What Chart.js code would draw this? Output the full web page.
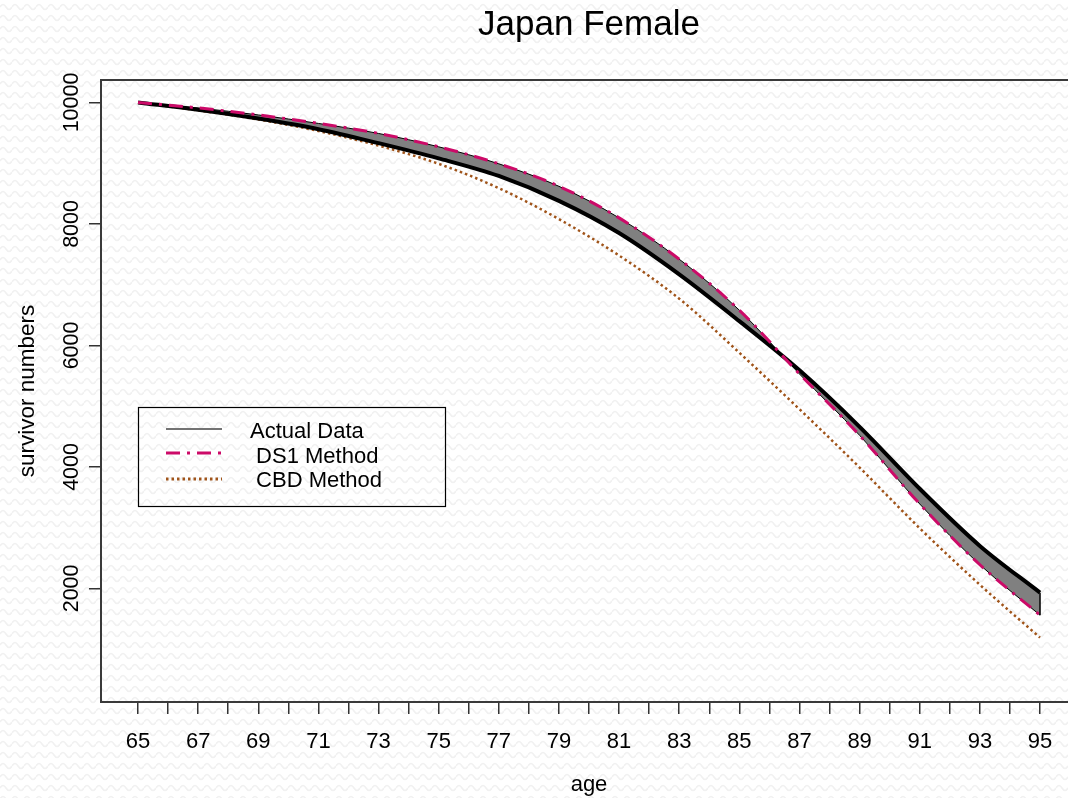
<!DOCTYPE html>
<html>
<head>
<meta charset="utf-8">
<script src="https://cdn.jsdelivr.net/npm/chart.js@4/dist/chart.umd.min.js"></script>
<style>
  html, body {
    margin: 0; padding: 0; width: 1068px; height: 798px; overflow: hidden;
    background-color: #ffffff;
    background-image: url("data:image/svg+xml,%3Csvg xmlns='http://www.w3.org/2000/svg' width='12' height='11'%3E%3Cpath d='M0 7 Q3 2 6 7 T12 7' fill='none' stroke='%23f1f1f1' stroke-width='1.6'/%3E%3C/svg%3E");
  }
  #wrap { position: relative; width: 1077px; height: 798px; }
</style>
</head>
<body>
<div id="wrap"><canvas id="chart" width="1077" height="798"></canvas></div>
<script>
// Survivor numbers per 10,000 at age 65, Japanese females
const ages = [65, 67, 69, 71, 73, 75, 77, 79, 81, 83, 85, 87, 89, 91, 93, 95];
const actualData = [10000, 9880, 9735, 9560, 9330, 9080, 8790, 8380, 7850, 7170, 6400, 5590, 4660, 3640, 2700, 1930];
const ds1Data    = [10000, 9910, 9795, 9655, 9490, 9270, 8990, 8620, 8100, 7420, 6580, 5530, 4520, 3390, 2390, 1560];
const cbdData    = [10000, 9870, 9720, 9530, 9290, 8990, 8590, 8080, 7480, 6770, 5880, 4950, 3990, 2990, 2060, 1190];

const xTicks = [65, 66, 67, 68, 69, 70, 71, 72, 73, 74, 75, 76, 77, 78, 79, 80,
                81, 82, 83, 84, 85, 86, 87, 88, 89, 90, 91, 92, 93, 94, 95];
const yTicks = [2000, 4000, 6000, 8000, 10000];
const seriesNames = ['Actual Data', ' DS1 Method', ' CBD Method'];

const FONT = '"Liberation Sans", Arial, Helvetica, sans-serif';
const MAGENTA = '#cc0a68';
const BROWN = '#a0541a';
const DASH_DOT = [14, 7, 3, 7];
const DOTTED = [2.5, 3];

const pts = (vals) => ages.map((a, i) => ({ x: a, y: vals[i] }));

// Plot frame, rotated y labels, band closure and the in-plot key
const decorations = {
  id: 'decorations',
  afterDatasetsDraw(chart) {
    const { ctx, scales: { x, y } } = chart;
    // close the shaded band at the last age
    const last = ages.length - 1;
    ctx.save();
    ctx.strokeStyle = '#000';
    ctx.lineWidth = 1.5;
    ctx.beginPath();
    ctx.moveTo(x.getPixelForValue(ages[last]), y.getPixelForValue(actualData[last]));
    ctx.lineTo(x.getPixelForValue(ages[last]), y.getPixelForValue(ds1Data[last]));
    ctx.stroke();
    ctx.restore();
  },
  afterDraw(chart) {
    const { ctx, chartArea: a, scales: { y } } = chart;
    ctx.save();
    // frame (open on the right, where the plot runs past the edge)
    ctx.strokeStyle = '#3a3a3a';
    ctx.lineWidth = 2;
    ctx.beginPath();
    ctx.moveTo(a.right + 5, a.top);
    ctx.lineTo(a.left, a.top);
    ctx.lineTo(a.left, a.bottom);
    ctx.lineTo(a.right + 5, a.bottom);
    ctx.stroke();

    // y tick labels, rotated to read bottom-up
    ctx.fillStyle = '#000';
    ctx.font = '21.5px ' + FONT;
    ctx.textAlign = 'center';
    ctx.textBaseline = 'middle';
    yTicks.forEach(v => {
      ctx.save();
      ctx.translate(72, y.getPixelForValue(v));
      ctx.rotate(-Math.PI / 2);
      ctx.fillText(String(v), 0, 0);
      ctx.restore();
    });

    // key
    const bx = 138, by = 407, bw = 307, bh = 99;
    ctx.strokeStyle = '#000';
    ctx.lineWidth = 1.2;
    ctx.strokeRect(bx + 0.5, by + 0.5, bw, bh);
    const rows = [
      { lineY: 429, textY: 432, color: '#444', width: 1.5, dash: [] },
      { lineY: 453, textY: 457, color: MAGENTA, width: 3, dash: DASH_DOT },
      { lineY: 479, textY: 481, color: BROWN, width: 3, dash: DOTTED }
    ];
    ctx.font = '22px ' + FONT;
    ctx.textAlign = 'left';
    rows.forEach((r, i) => {
      ctx.beginPath();
      ctx.setLineDash(r.dash);
      ctx.strokeStyle = r.color;
      ctx.lineWidth = r.width;
      ctx.moveTo(166, r.lineY);
      ctx.lineTo(222, r.lineY);
      ctx.stroke();
      ctx.setLineDash([]);
      ctx.fillStyle = '#000';
      ctx.fillText(seriesNames[i], 250, r.textY);
    });
    ctx.restore();
  }
};

new Chart(document.getElementById('chart'), {
  type: 'line',
  data: {
    datasets: [
      {
        label: seriesNames[0],
        data: pts(actualData),
        borderColor: '#000',
        borderWidth: 4,
        backgroundColor: '#808080',
        fill: { target: 1 },
        pointRadius: 0,
        cubicInterpolationMode: 'monotone',
        order: 2
      },
      {
        label: seriesNames[1],
        data: pts(ds1Data),
        borderColor: MAGENTA,
        borderWidth: 3,
        borderDash: DASH_DOT,
        fill: false,
        pointRadius: 0,
        cubicInterpolationMode: 'monotone',
        order: 0
      },
      {
        label: 'ds1-edge',
        data: pts(ds1Data),
        borderColor: '#000',
        borderWidth: 1,
        fill: false,
        pointRadius: 0,
        cubicInterpolationMode: 'monotone',
        order: 1
      },
      {
        label: seriesNames[2],
        data: pts(cbdData),
        borderColor: BROWN,
        borderWidth: 2.5,
        borderDash: DOTTED,
        fill: false,
        pointRadius: 0,
        cubicInterpolationMode: 'monotone',
        order: 3
      }
    ]
  },
  options: {
    responsive: false,
    animation: false,
    devicePixelRatio: 1,
    layout: { padding: 0 },
    plugins: {
      legend: { display: false },
      tooltip: { enabled: false },
      title: {
        display: true,
        fullSize: false,
        text: 'Japan Female',
        color: '#000',
        font: { family: FONT, size: 35, weight: 'normal', lineHeight: 1.2 },
        padding: { top: 4, bottom: 34 }
      }
    },
    scales: {
      x: {
        type: 'linear',
        min: 63.7694,
        max: 96.23,
        afterBuildTicks: (axis) => { axis.ticks = xTicks.map(v => ({ value: v })); },
        afterFit: (scale) => { scale.height = 96; },
        border: { display: false },
        grid: { display: true, drawOnChartArea: false, drawTicks: true, tickLength: 12, color: '#333', lineWidth: 1.5 },
        ticks: {
          color: '#000',
          font: { family: FONT, size: 22 },
          padding: 15,
          maxRotation: 0,
          autoSkip: false,
          callback: (v) => (v % 2 === 1 ? String(v) : '')
        },
        title: {
          display: true,
          text: 'age',
          color: '#000',
          font: { family: FONT, size: 22 },
          padding: { top: 0, bottom: 0 }
        }
      },
      y: {
        type: 'linear',
        min: 130,
        max: 10370,
        afterBuildTicks: (axis) => { axis.ticks = yTicks.map(v => ({ value: v })); },
        afterFit: (scale) => { scale.width = 101; },
        border: { display: false },
        grid: { display: true, drawOnChartArea: false, drawTicks: true, tickLength: 12, color: '#333', lineWidth: 1.5 },
        ticks: { display: false },
        title: {
          display: true,
          text: 'survivor numbers',
          color: '#000',
          font: { family: FONT, size: 22.5 },
          padding: { top: 14, bottom: 0 }
        }
      }
    }
  },
  plugins: [decorations]
});
</script>
</body>
</html>
